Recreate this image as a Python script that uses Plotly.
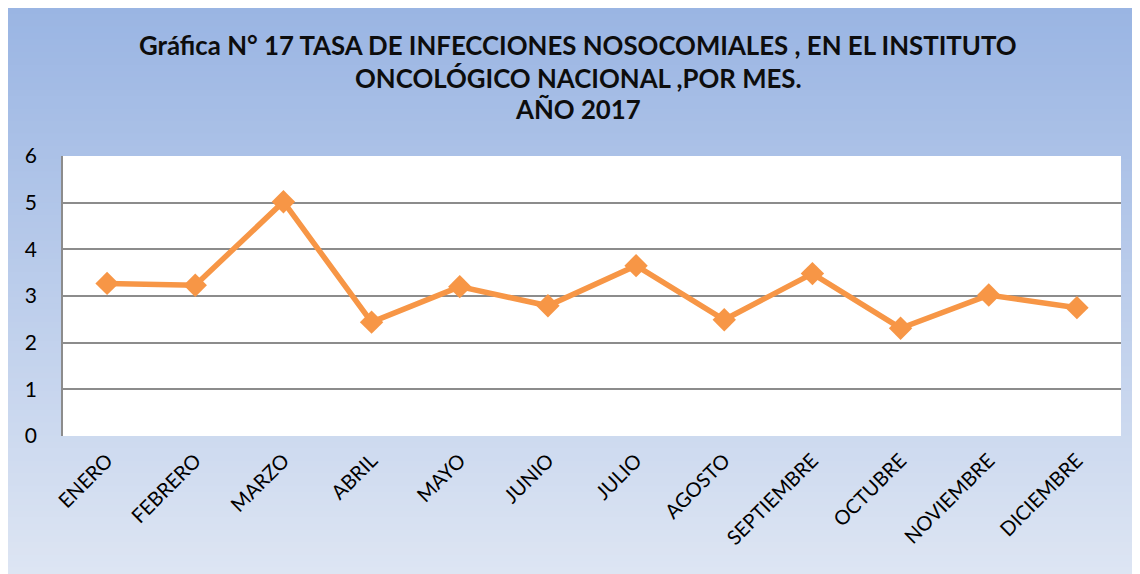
import plotly.graph_objects as go

meses = ["ENERO", "FEBRERO", "MARZO", "ABRIL", "MAYO", "JUNIO", "JULIO",
         "AGOSTO", "SEPTIEMBRE", "OCTUBRE", "NOVIEMBRE", "DICIEMBRE"]
tasa = [3.27, 3.23, 5.02, 2.44, 3.20, 2.79, 3.65, 2.49, 3.48, 2.31, 3.02, 2.75]
y_ticks = [0, 1, 2, 3, 4, 5, 6]

# the page has an 8px body margin, so figure pixel = page pixel - 8
OFF = 8
W, H = 1140 - OFF, 574 - OFF
L, R, T, B = 63 - OFF, 1121 - OFF, 156 - OFF, 436 - OFF

fig = go.Figure()
fig.add_trace(go.Scatter(
    x=meses, y=tasa, mode="lines+markers",
    line=dict(color="#F79646", width=5.5),
    marker=dict(symbol="diamond", size=18, color="#F79646"),
    showlegend=False, hoverinfo="x+y",
))

def px2x(px):
    return (px - OFF - L) / (R - L)

def py2y(py):
    return (B - (py - OFF)) / (B - T)

# gradient background (blue top -> pale bottom)
top = (0x9A, 0xB5, 0xE3)
bot = (0xDD, 0xE5, 0xF3)
n = 90
y0p, y1p = OFF, 574
shapes = []
for i in range(n):
    f = i / (n - 1)
    c = tuple(round(top[k] + (bot[k] - top[k]) * f) for k in range(3))
    a = y0p + (y1p - y0p) * i / n
    b = y0p + (y1p - y0p) * (i + 1) / n + 0.6
    shapes.append(dict(type="rect", xref="paper", yref="paper",
                       x0=px2x(OFF - 2), x1=px2x(1142), y0=py2y(a - 0.3), y1=py2y(b),
                       fillcolor="rgb(%d,%d,%d)" % c, line=dict(width=0),
                       layer="below"))
shapes.append(dict(type="rect", xref="paper", yref="paper", x0=0, x1=1, y0=0, y1=1,
                   fillcolor="white", line=dict(width=0), layer="below"))

title_lines = [
    "Gráfica N° 17 TASA DE INFECCIONES NOSOCOMIALES , EN EL INSTITUTO",
    "ONCOLÓGICO NACIONAL ,POR MES.",
    "AÑO 2017",
]
title_y = [45, 78, 109]
ann = []
for t, yy in zip(title_lines, title_y):
    ann.append(dict(text="<b>%s</b>" % t, xref="paper", yref="paper",
                    x=px2x(578), y=py2y(yy), xanchor="center", yanchor="middle",
                    showarrow=False,
                    font=dict(family="Lato, Carlito, Calibri, sans-serif", size=25.8, color="#0d0d0d")))

fig.update_layout(
    width=W, height=H,
    margin=dict(l=L, r=W - R, t=T, b=H - B, pad=0),
    paper_bgcolor="#DDE5F3",
    plot_bgcolor="rgba(0,0,0,0)",
    shapes=shapes,
    annotations=ann,
    font=dict(family="Lato, Carlito, Calibri, sans-serif", color="black"),
    xaxis=dict(
        type="category", range=[-0.5, 11.5], showgrid=False, zeroline=False,
        tickangle=-45, tickfont=dict(size=20, color="black"),
        ticks="outside", ticklen=4, tickcolor="rgba(0,0,0,0)",
        showline=False,
    ),
    yaxis=dict(
        range=[0, 6], tickvals=y_ticks, showgrid=True, gridcolor="#8C8C8C", gridwidth=1.5,
        zeroline=False, showline=True, linecolor="#8C8C8C", linewidth=1.5,
        tickfont=dict(size=21, color="black"),
        ticks="outside", ticklen=20, tickcolor="rgba(0,0,0,0)",
    ),
)

fig.write_html("out.html")
